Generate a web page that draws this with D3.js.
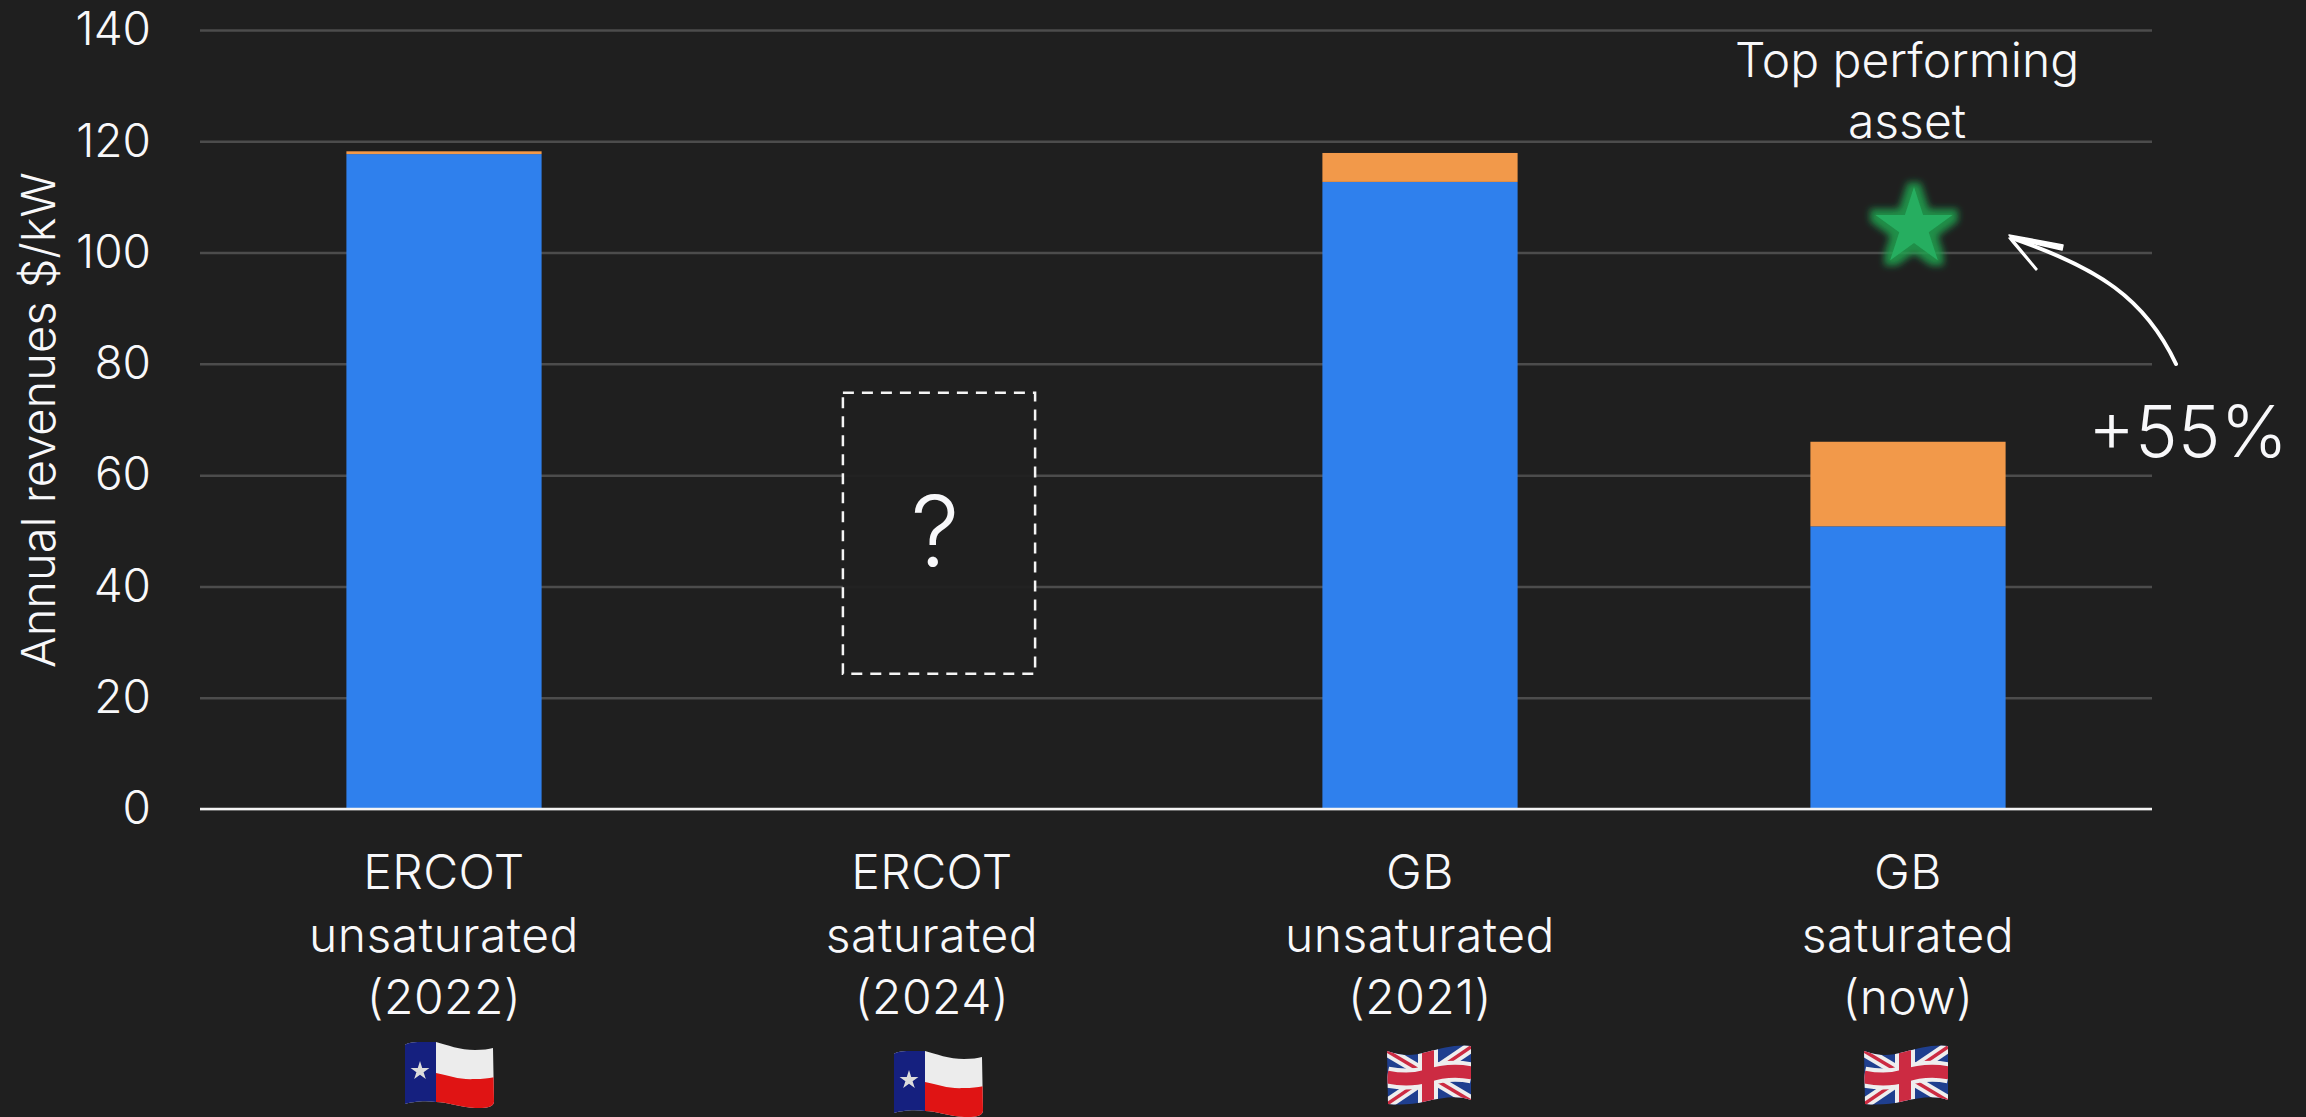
<!doctype html>
<html>
<head>
  <meta charset='utf-8'>
  <style>
    html, body { margin: 0; padding: 0; background: #1f1f1f; overflow: hidden; }
    svg { display: block; }
    text { font-family: Inter, sans-serif; font-weight: 300; fill: #f8f8fa; }
    .tick text { font-size: 46px; }
  </style>
</head>
<body>
  <svg width='2306' height='1117'></svg>
  <script src='https://d3js.org/d3.v7.min.js'></script>
  <script>
    var categories = ['ercot2022', 'ercot2024', 'gb2021', 'gbNow'];
    var categoryLines = [
      ['ERCOT', 'unsaturated', '(2022)'],
      ['ERCOT', 'saturated', '(2024)'],
      ['GB', 'unsaturated', '(2021)'],
      ['GB', 'saturated', '(now)']
    ];
    var flags = ['tx', 'tx', 'uk', 'uk'];
    var blueValues = [117.7, null, 112.7, 50.8];
    var orangeValues = [0.5, null, 5.2, 15.2];
    var unknownRange = [24.3, 74.8];
    var yTicks = [0, 20, 40, 60, 80, 100, 120, 140];
    var starValue = 104.5;

    var svg = d3.select('svg');
    var plotLeft = 200, plotRight = 2152, plotTop = 30, plotBottom = 809;

    var x = d3.scaleBand().domain(categories).range([plotLeft, plotRight])
      .paddingInner(0.6).paddingOuter(0.3);
    var y = d3.scaleLinear().domain([0, 140]).range([plotBottom, plotTop]);

    var defs = svg.append('defs');
    var glow = defs.append('filter').attr('id', 'glow')
      .attr('x', '-50%').attr('y', '-50%').attr('width', '200%').attr('height', '200%');
    glow.append('feMorphology').attr('in', 'SourceAlpha').attr('operator', 'dilate')
      .attr('radius', 6).attr('result', 'fat');
    glow.append('feGaussianBlur').attr('in', 'fat').attr('stdDeviation', 3.5).attr('result', 'blur');
    glow.append('feFlood').attr('flood-color', '#1fa34f').attr('flood-opacity', 0.85);
    glow.append('feComposite').attr('in2', 'blur').attr('operator', 'in').attr('result', 'halo');
    var merge = glow.append('feMerge');
    merge.append('feMergeNode').attr('in', 'halo');
    merge.append('feMergeNode').attr('in', 'SourceGraphic');

    // grid and y axis
    var yAxis = d3.axisLeft(y).tickValues(yTicks).tickSize(0).tickPadding(49);
    var yg = svg.append('g').attr('transform', 'translate(' + plotLeft + ',0)').call(yAxis);
    yg.select('.domain').remove();
    yg.selectAll('.tick line').attr('stroke', '#4c4c4c').attr('stroke-width', 2.5)
      .attr('x1', 0).attr('x2', plotRight - plotLeft);
    yg.selectAll('.tick text').attr('fill', '#f8f8fa');

    // stacked bars
    var rows = categories.map(function(c, i) {
      return { cat: c, blue: blueValues[i], orange: orangeValues[i] };
    }).filter(function(d) { return d.blue !== null; });

    svg.selectAll('.blue').data(rows).enter().append('rect')
      .attr('class', 'blue')
      .attr('x', function(d) { return x(d.cat); })
      .attr('width', x.bandwidth())
      .attr('y', function(d) { return y(d.blue); })
      .attr('height', function(d) { return y(0) - y(d.blue); })
      .attr('fill', '#2f80ed');

    svg.selectAll('.orange').data(rows).enter().append('rect')
      .attr('class', 'orange')
      .attr('x', function(d) { return x(d.cat); })
      .attr('width', x.bandwidth())
      .attr('y', function(d) { return y(d.blue + d.orange); })
      .attr('height', function(d) { return y(d.blue) - y(d.blue + d.orange); })
      .attr('fill', '#f2994a');

    // zero line
    svg.append('line').attr('x1', plotLeft).attr('x2', plotRight)
      .attr('y1', y(0)).attr('y2', y(0))
      .attr('stroke', '#f4f4f4').attr('stroke-width', 2.5);

    // dashed box for the unknown bar
    svg.append('rect')
      .attr('x', x('ercot2024') + 8.5)
      .attr('width', x.bandwidth() - 3)
      .attr('y', y(unknownRange[1]))
      .attr('height', y(unknownRange[0]) - y(unknownRange[1]))
      .attr('fill', '#1f1f1f').attr('fill-opacity', 0.93)
      .attr('stroke', '#f4f4f4').attr('stroke-width', 2.5)
      .attr('stroke-dasharray', '11 8');

    svg.append('text')
      .attr('x', x('ercot2024') + x.bandwidth() / 2 + 3).attr('y', 566)
      .attr('text-anchor', 'middle').style('font-size', '97px')
      .text('?');

    // category labels
    var labels = svg.selectAll('.cat').data(categories).enter().append('text')
      .attr('class', 'cat')
      .attr('text-anchor', 'middle')
      .style('font-size', '48px')
      .style('letter-spacing', '0.5px');
    labels.selectAll('tspan')
      .data(function(d, i) {
        return categoryLines[i].map(function(s) { return { s: s, c: d }; });
      })
      .enter().append('tspan')
      .attr('x', function(d) { return x(d.c) + x.bandwidth() / 2; })
      .attr('y', function(d, i) { return 889 + i * 62.5; })
      .text(function(d) { return d.s; });

    // y axis title
    svg.append('text')
      .attr('transform', 'translate(55,420) rotate(-90)')
      .attr('text-anchor', 'middle')
      .style('font-size', '47px')
      .text('Annual revenues $/kW');

    // top performer note
    var starX = x('gbNow') + x.bandwidth() / 2 + 6;
    svg.append('text')
      .attr('x', starX - 7).attr('y', 77)
      .attr('text-anchor', 'middle').style('font-size', '48px')
      .text('Top performing');
    svg.append('text')
      .attr('x', starX - 7).attr('y', 138)
      .attr('text-anchor', 'middle').style('font-size', '48px')
      .text('asset');

    svg.append('path')
      .attr('d', d3.symbol().type(d3.symbolStar).size(1841))
      .attr('transform', 'translate(' + starX + ',' + y(starValue) + ')')
      .attr('fill', '#27ae60')
      .attr('filter', 'url(#glow)');

    // hand drawn arrow
    svg.append('path')
      .attr('d', 'M2176,364 C2145,298 2098,268 2012,238')
      .attr('fill', 'none').attr('stroke', '#fff').attr('stroke-width', 4)
      .attr('stroke-linecap', 'round');
    svg.append('path')
      .attr('d', 'M2063,245 L2009,235 L2037,269 L2036,270 L2013,243 L2009,238 L2062,250 Z')
      .attr('fill', '#fff').attr('stroke', '#fff').attr('stroke-width', 1.5)
      .attr('stroke-linejoin', 'round');

    svg.append('text')
      .attr('x', 2188).attr('y', 457)
      .attr('text-anchor', 'middle').style('font-size', '72px')
      .text('+55%');

    // flags
    function texasFlag(g) {
      var outline = 'M0,3 C3,-1 20,0 31,0 C42,3 55,8 70,8 C78,8 84,7 88,6 L89,60 C88,66 80,66 70,66 C55,65 42,60 31,60 C20,58 5,60 0,62 Z';
      var id = 'tx' + Math.round(g.datum().x);
      defs.append('clipPath').attr('id', id).append('path').attr('d', outline);
      var f = g.append('g').attr('clip-path', 'url(#' + id + ')');
      f.append('rect').attr('x', 0).attr('y', -2).attr('width', 90).attr('height', 70).attr('fill', '#ececec');
      f.append('path').attr('d', 'M31,31 C45,34 55,38 70,37 C78,37 84,36 90,35 L90,70 L31,70 Z').attr('fill', '#e01414');
      f.append('rect').attr('x', 0).attr('y', -2).attr('width', 31).attr('height', 70).attr('fill', '#15207f');
      f.append('path').attr('d', d3.symbol().type(d3.symbolStar).size(110))
        .attr('transform', 'translate(15,29)').attr('fill', '#dcdcdc');
    }

    function ukFlag(g) {
      var outline = 'M0,6 C15,11 25,11 40,7 C55,3 70,-1 84,1 L84,55 C70,50 55,53 40,56 C25,60 12,60 1,59 Z';
      var id = 'uk' + Math.round(g.datum().x);
      defs.append('clipPath').attr('id', id).append('path').attr('d', outline);
      var f = g.append('g').attr('clip-path', 'url(#' + id + ')');
      f.append('rect').attr('x', -2).attr('y', -2).attr('width', 90).attr('height', 66).attr('fill', '#1f3f8f');
      var diag = ['M0,6 L84,56', 'M0,59 L84,2'];
      diag.forEach(function(d) {
        f.append('path').attr('d', d).attr('stroke', '#eee').attr('stroke-width', 11).attr('fill', 'none');
        f.append('path').attr('d', d).attr('stroke', '#cc2b42').attr('stroke-width', 3.5).attr('fill', 'none');
      });
      f.append('path').attr('d', 'M0,32 C15,35 27,35 40,31 C55,26 70,25 85,28').attr('stroke', '#eee').attr('stroke-width', 21).attr('fill', 'none');
      f.append('rect').attr('x', 31).attr('y', -2).attr('width', 20).attr('height', 66).attr('fill', '#eee');
      f.append('path').attr('d', 'M0,32 C15,35 27,35 40,31 C55,26 70,25 85,28').attr('stroke', '#cc2b42').attr('stroke-width', 13).attr('fill', 'none');
      f.append('rect').attr('x', 35).attr('y', -2).attr('width', 12).attr('height', 66).attr('fill', '#cc2b42');
    }

    var flagOffsets = [
      { dx: -39, y: 1042 },
      { dx: -38, y: 1051 },
      { dx: -33, y: 1045 },
      { dx: -44, y: 1045 }
    ];
    categories.forEach(function(c, i) {
      var fx = x(c) + x.bandwidth() / 2 + flagOffsets[i].dx;
      var g = svg.append('g').datum({ x: fx })
        .attr('transform', 'translate(' + fx + ',' + flagOffsets[i].y + ')');
      if (flags[i] === 'tx') texasFlag(g); else ukFlag(g);
    });
  </script>
</body>
</html>
